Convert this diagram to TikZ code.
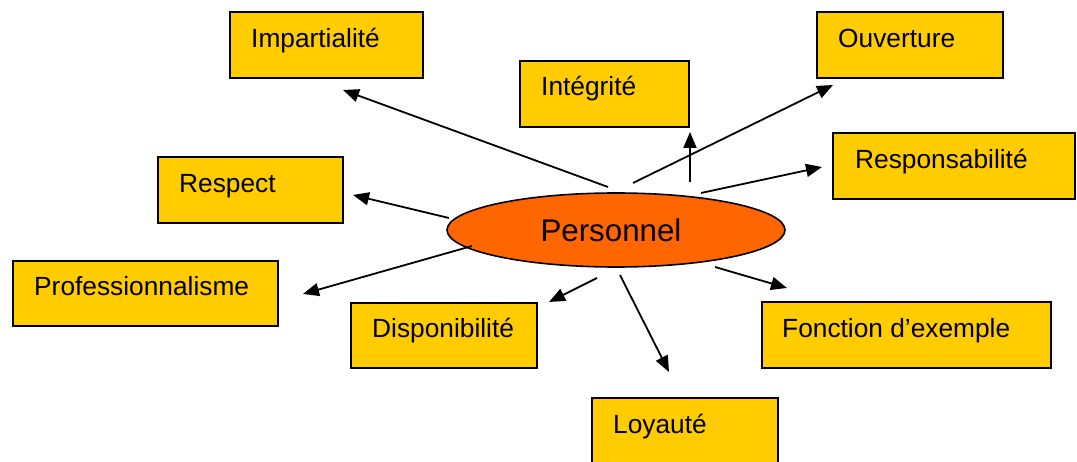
\documentclass[tikz,border=0pt]{standalone}
\usepackage{fontspec}
\setmainfont{Liberation Sans}
\usetikzlibrary{arrows.meta,shapes.geometric}
\definecolor{boxyellow}{HTML}{FFCC00}
\definecolor{persorange}{HTML}{FF6600}
\begin{document}
\begin{tikzpicture}[x=1pt,y=-1pt,
  box/.style={draw=black,line width=1.6pt,fill=boxyellow,rectangle,inner sep=0pt,outer sep=0pt,anchor=north west,minimum height=66pt},
  lbl/.style={anchor=base west,inner sep=0pt,font=\fontsize{26.3}{30}\selectfont},
  conn/.style={line width=1.8pt,-{Triangle[length=16pt,width=13pt]}}]
\clip (0,0) rectangle (1077,462);
\fill[white] (0,0) rectangle (1077,462);
% boxes
\node[box,minimum width=193pt] (imp) at (230,12) {};
\node[box,minimum width=169pt] (integ) at (520,61) {};
\node[box,minimum width=186pt] (ouv) at (817,12) {};
\node[box,minimum width=185pt] (resp) at (158,157) {};
\node[box,minimum width=242pt] (respo) at (833,133) {};
\node[box,minimum width=265pt,minimum height=65pt] (prof) at (13,261) {};
\node[box,minimum width=186pt,minimum height=65pt] (dispo) at (351,303) {};
\node[box,minimum width=289pt] (fonc) at (762,302) {};
\node[box,minimum width=186pt,minimum height=80pt] (loy) at (592,398) {};
% labels
\node[lbl] (impt) at ([shift={(21,36)}]imp.north west) {Impartialité};
\node[lbl] (integt) at ([shift={(21,35)}]integ.north west) {Intégrité};
\node[lbl] (ouvt) at ([shift={(21,36)}]ouv.north west) {Ouverture};
\node[lbl] (respt) at ([shift={(21,36)}]resp.north west) {Respect};
\node[lbl] (respot) at ([shift={(22,36)}]respo.north west) {Responsabilité};
\node[lbl] (proft) at ([shift={(21,35)}]prof.north west) {Professionnalisme};
\node[lbl] (dispot) at ([shift={(21,35)}]dispo.north west) {Disponibilité};
\node[lbl] (fonct) at ([shift={(20,36)}]fonc.north west) {Fonction d’exemple};
\node[lbl] (loyt) at ([shift={(21,35)}]loy.north west) {Loyauté};
% central ellipse
\node[ellipse,draw=black,line width=1.6pt,fill=persorange,minimum width=338pt,minimum height=74pt,inner sep=0pt] (pers) at (616,230) {};
\node[anchor=base,inner sep=0pt,font=\fontsize{31.3}{36}\selectfont] (perst) at (611,242) {Personnel};
% connector ends
\coordinate (a1) at (608,187); \coordinate (b1) at (343,90);
\coordinate (a2) at (690,182); \coordinate (b2) at (690,132);
\coordinate (a3) at (633,183); \coordinate (b3) at (833,85);
\coordinate (a4) at (701,193); \coordinate (b4) at (822,167);
\coordinate (a5) at (449,218); \coordinate (b5) at (353,195);
\coordinate (a6) at (472,246); \coordinate (b6) at (303,294);
\coordinate (a7) at (597,278); \coordinate (b7) at (549,302);
\coordinate (a8) at (620,275); \coordinate (b8) at (669,372);
\coordinate (a9) at (715,267); \coordinate (b9) at (787,288);
% connectors
\draw[conn] (a1) -- (b1);
\draw[conn] (a2) -- (b2);
\draw[conn] (a3) -- (b3);
\draw[conn] (a4) -- (b4);
\draw[conn] (a5) -- (b5);
\draw[conn] (a6) -- (b6);
\draw[conn] (a7) -- (b7);
\draw[conn] (a8) -- (b8);
\draw[conn] (a9) -- (b9);
\end{tikzpicture}
\end{document}
